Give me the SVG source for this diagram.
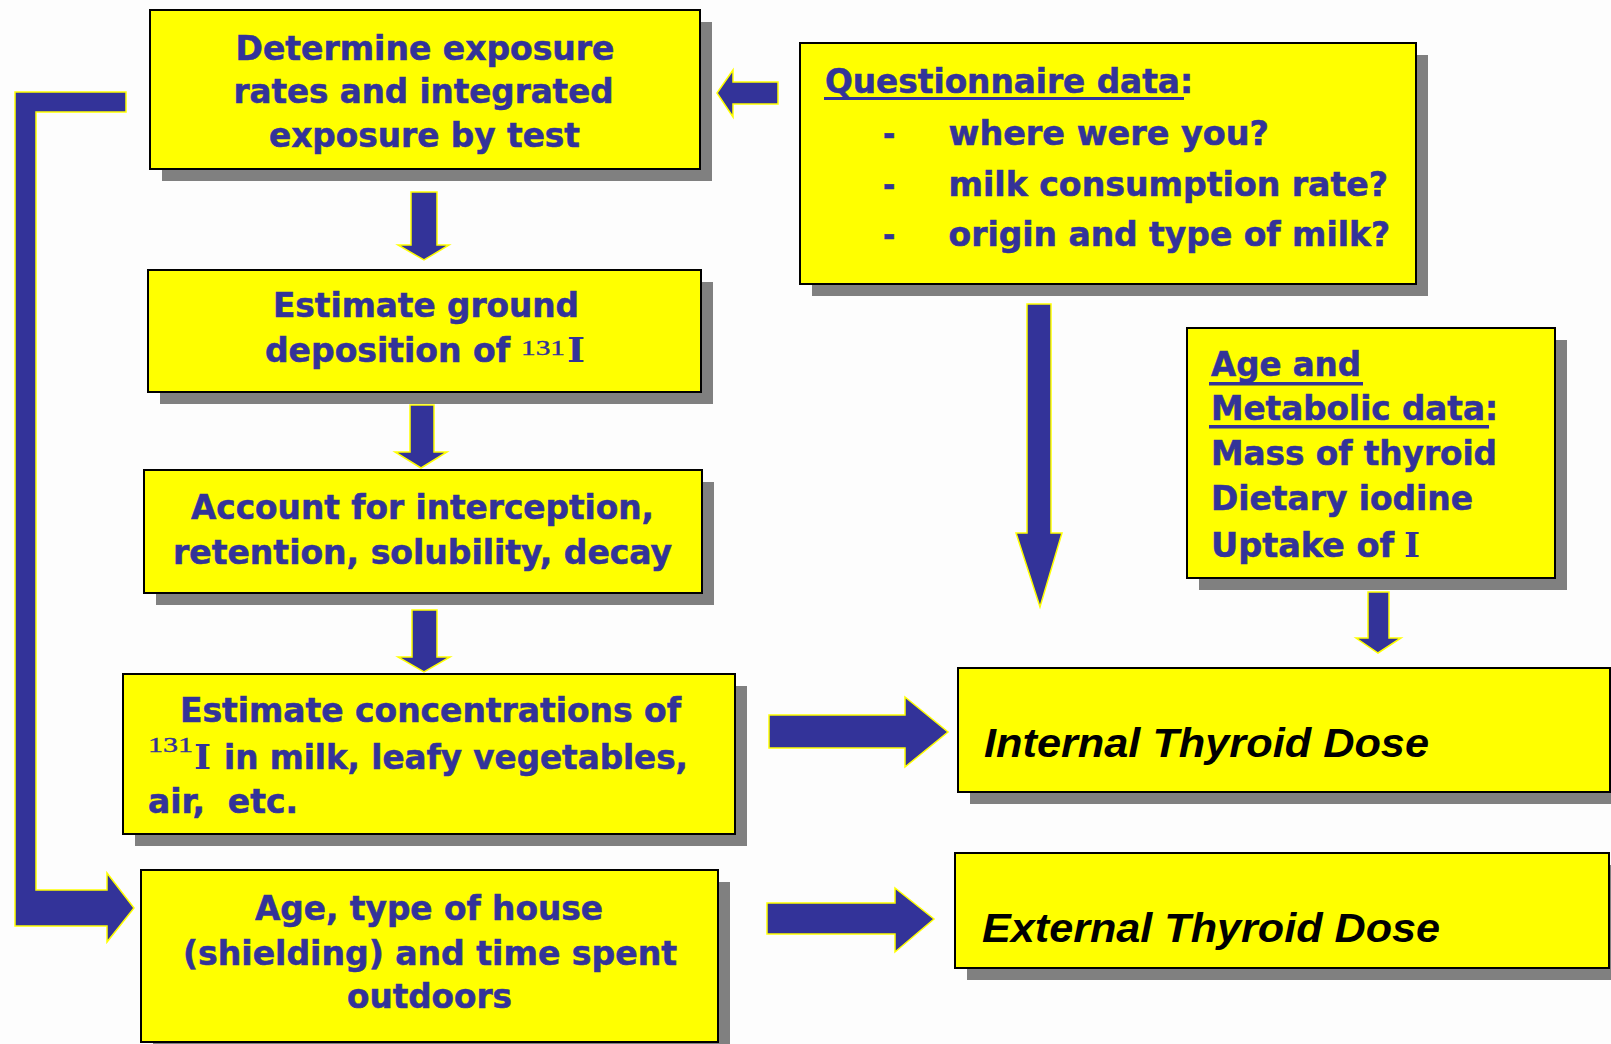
<svg xmlns="http://www.w3.org/2000/svg" width="1611" height="1044" viewBox="0 0 1611 1044">
<style>
.bg{fill:#fdfdfd}
.box{fill:#ffff00;stroke:#000;stroke-width:2}
.sh{fill:#808080}
.t{font-family:"DejaVu Sans","Liberation Sans",sans-serif;font-weight:bold;font-size:33px;fill:#333399;stroke:#333399;stroke-width:0.5;font-stretch:condensed}
.ser{font-family:"Liberation Serif","Times New Roman",serif;fill:#333399;stroke:#333399;stroke-width:0.4}
.ib{font-family:"DejaVu Serif","Liberation Serif",serif;font-weight:bold;font-size:33px;fill:#333399}
.dose{font-family:"Liberation Sans",Arial,sans-serif;font-weight:bold;font-style:italic;font-size:41px;fill:#000}
.arr{fill:#333399;stroke:#ffff00;stroke-width:1.5;stroke-linejoin:miter}
.ul{fill:#333399}
</style>
<rect class="bg" x="0" y="0" width="1611" height="1044"/>

<g id="connectors">
<path class="arr" d="M126,92 L15,92 L15,926 L107,926 L107,942 L134,908 L107,873 L107,890 L36,890 L36,112 L126,112 Z"/>
<path class="arr" d="M778,82 L733,82 L733,70 L717,93 L733,117 L733,104 L778,104 Z"/>
<path class="arr" d="M411,192 L437,192 L437,245 L449,245 L424,260 L398,245 L411,245 Z"/>
<path class="arr" d="M410,405 L434,405 L434,452 L447,452 L421,468 L395,452 L410,452 Z"/>
<path class="arr" d="M412,610 L437,610 L437,657 L450,657 L424,672 L398,657 L412,657 Z"/>
<path class="arr" d="M1027,304 L1051,304 L1051,533 L1062,533 L1040,607 L1016,533 L1027,533 Z"/>
<path class="arr" d="M1368,592 L1389,592 L1389,638 L1401,638 L1378,653 L1356,638 L1368,638 Z"/>
<path class="arr" d="M769,715 L905,715 L905,697 L948,732 L905,767 L905,748 L769,748 Z"/>
<path class="arr" d="M767,903 L895,903 L895,888 L934,919 L895,952 L895,934 L767,934 Z"/>
</g>

<g id="n-exposure">
<rect class="sh" x="162" y="22" width="550" height="159"/>
<rect class="box" x="150" y="10" width="550" height="159"/>
<text class="t" x="235.5" y="60" textLength="379" lengthAdjust="spacingAndGlyphs">Determine exposure</text>
<text class="t" x="233.5" y="103" textLength="380" lengthAdjust="spacingAndGlyphs">rates and integrated</text>
<text class="t" x="269" y="147" textLength="311" lengthAdjust="spacingAndGlyphs">exposure by test</text>
</g>

<g id="n-questionnaire">
<rect class="sh" x="812" y="55" width="616" height="241"/>
<rect class="box" x="800" y="43" width="616" height="241"/>
<text class="t" x="825" y="93" textLength="368" lengthAdjust="spacingAndGlyphs">Questionnaire data:</text>
<rect class="ul" x="824" y="97" width="360" height="3"/>
<text class="t" x="883" y="145">-</text>
<text class="t" x="948.5" y="145" textLength="320.5" lengthAdjust="spacingAndGlyphs">where were you?</text>
<text class="t" x="883" y="196">-</text>
<text class="t" x="948.5" y="196" textLength="439.5" lengthAdjust="spacingAndGlyphs">milk consumption rate?</text>
<text class="t" x="883" y="246">-</text>
<text class="t" x="948.5" y="246" textLength="441.5" lengthAdjust="spacingAndGlyphs">origin and type of milk?</text>
</g>

<g id="n-ground">
<rect class="sh" x="160" y="282" width="553" height="122"/>
<rect class="box" x="148" y="270" width="553" height="122"/>
<text class="t" x="273" y="317" textLength="306" lengthAdjust="spacingAndGlyphs">Estimate ground</text>
<text class="t" x="265" y="362" textLength="245" lengthAdjust="spacingAndGlyphs">deposition of</text>
<text class="ser" x="521" y="355" font-size="22" textLength="44" lengthAdjust="spacingAndGlyphs">131</text>
<text class="ib" x="567" y="362" textLength="18" lengthAdjust="spacingAndGlyphs">I</text>
</g>

<g id="n-interception">
<rect class="sh" x="156" y="482" width="558" height="123"/>
<rect class="box" x="144" y="470" width="558" height="123"/>
<text class="t" x="191" y="519" textLength="463" lengthAdjust="spacingAndGlyphs">Account for interception,</text>
<text class="t" x="173" y="564" textLength="499" lengthAdjust="spacingAndGlyphs">retention, solubility, decay</text>
</g>

<g id="n-concentrations">
<rect class="sh" x="135" y="686" width="612" height="160"/>
<rect class="box" x="123" y="674" width="612" height="160"/>
<text class="t" x="180" y="722" textLength="501" lengthAdjust="spacingAndGlyphs">Estimate concentrations of</text>
<text class="ser" x="148" y="752" font-size="22" textLength="45" lengthAdjust="spacingAndGlyphs">131</text>
<text class="ib" x="194" y="769" textLength="17" lengthAdjust="spacingAndGlyphs">I</text>
<text class="t" x="224" y="769" textLength="464" lengthAdjust="spacingAndGlyphs">in milk, leafy vegetables,</text>
<text class="t" x="148" y="813" textLength="150" lengthAdjust="spacingAndGlyphs" xml:space="preserve">air,  etc.</text>
</g>

<g id="n-house">
<rect class="sh" x="153" y="882" width="577" height="172"/>
<rect class="box" x="141" y="870" width="577" height="172"/>
<text class="t" x="255" y="920" textLength="348" lengthAdjust="spacingAndGlyphs">Age, type of house</text>
<text class="t" x="183" y="965" textLength="494" lengthAdjust="spacingAndGlyphs">(shielding) and time spent</text>
<text class="t" x="347" y="1008" textLength="165" lengthAdjust="spacingAndGlyphs">outdoors</text>
</g>

<g id="n-metabolic">
<rect class="sh" x="1199" y="340" width="368" height="250"/>
<rect class="box" x="1187" y="328" width="368" height="250"/>
<text class="t" x="1211" y="376" textLength="150" lengthAdjust="spacingAndGlyphs">Age and</text>
<rect class="ul" x="1209" y="382" width="154" height="3.5"/>
<text class="t" x="1211" y="420" textLength="287" lengthAdjust="spacingAndGlyphs">Metabolic data:</text>
<rect class="ul" x="1209" y="425" width="280" height="3.5"/>
<text class="t" x="1211" y="465" textLength="286" lengthAdjust="spacingAndGlyphs">Mass of thyroid</text>
<text class="t" x="1211" y="510" textLength="262" lengthAdjust="spacingAndGlyphs">Dietary iodine</text>
<text class="t" x="1211" y="557" textLength="183" lengthAdjust="spacingAndGlyphs">Uptake of</text>
<text class="ib" x="1404" y="557" textLength="16" lengthAdjust="spacingAndGlyphs">I</text>
</g>

<g id="n-internal">
<rect class="sh" x="970" y="680" width="652" height="124"/>
<rect class="box" x="958" y="668" width="652" height="124"/>
<text class="dose" x="984" y="757" textLength="445" lengthAdjust="spacingAndGlyphs">Internal Thyroid Dose</text>
</g>

<g id="n-external">
<rect class="sh" x="967" y="865" width="654" height="115"/>
<rect class="box" x="955" y="853" width="654" height="115"/>
<text class="dose" x="982" y="942" textLength="458" lengthAdjust="spacingAndGlyphs">External Thyroid Dose</text>
</g>
</svg>
